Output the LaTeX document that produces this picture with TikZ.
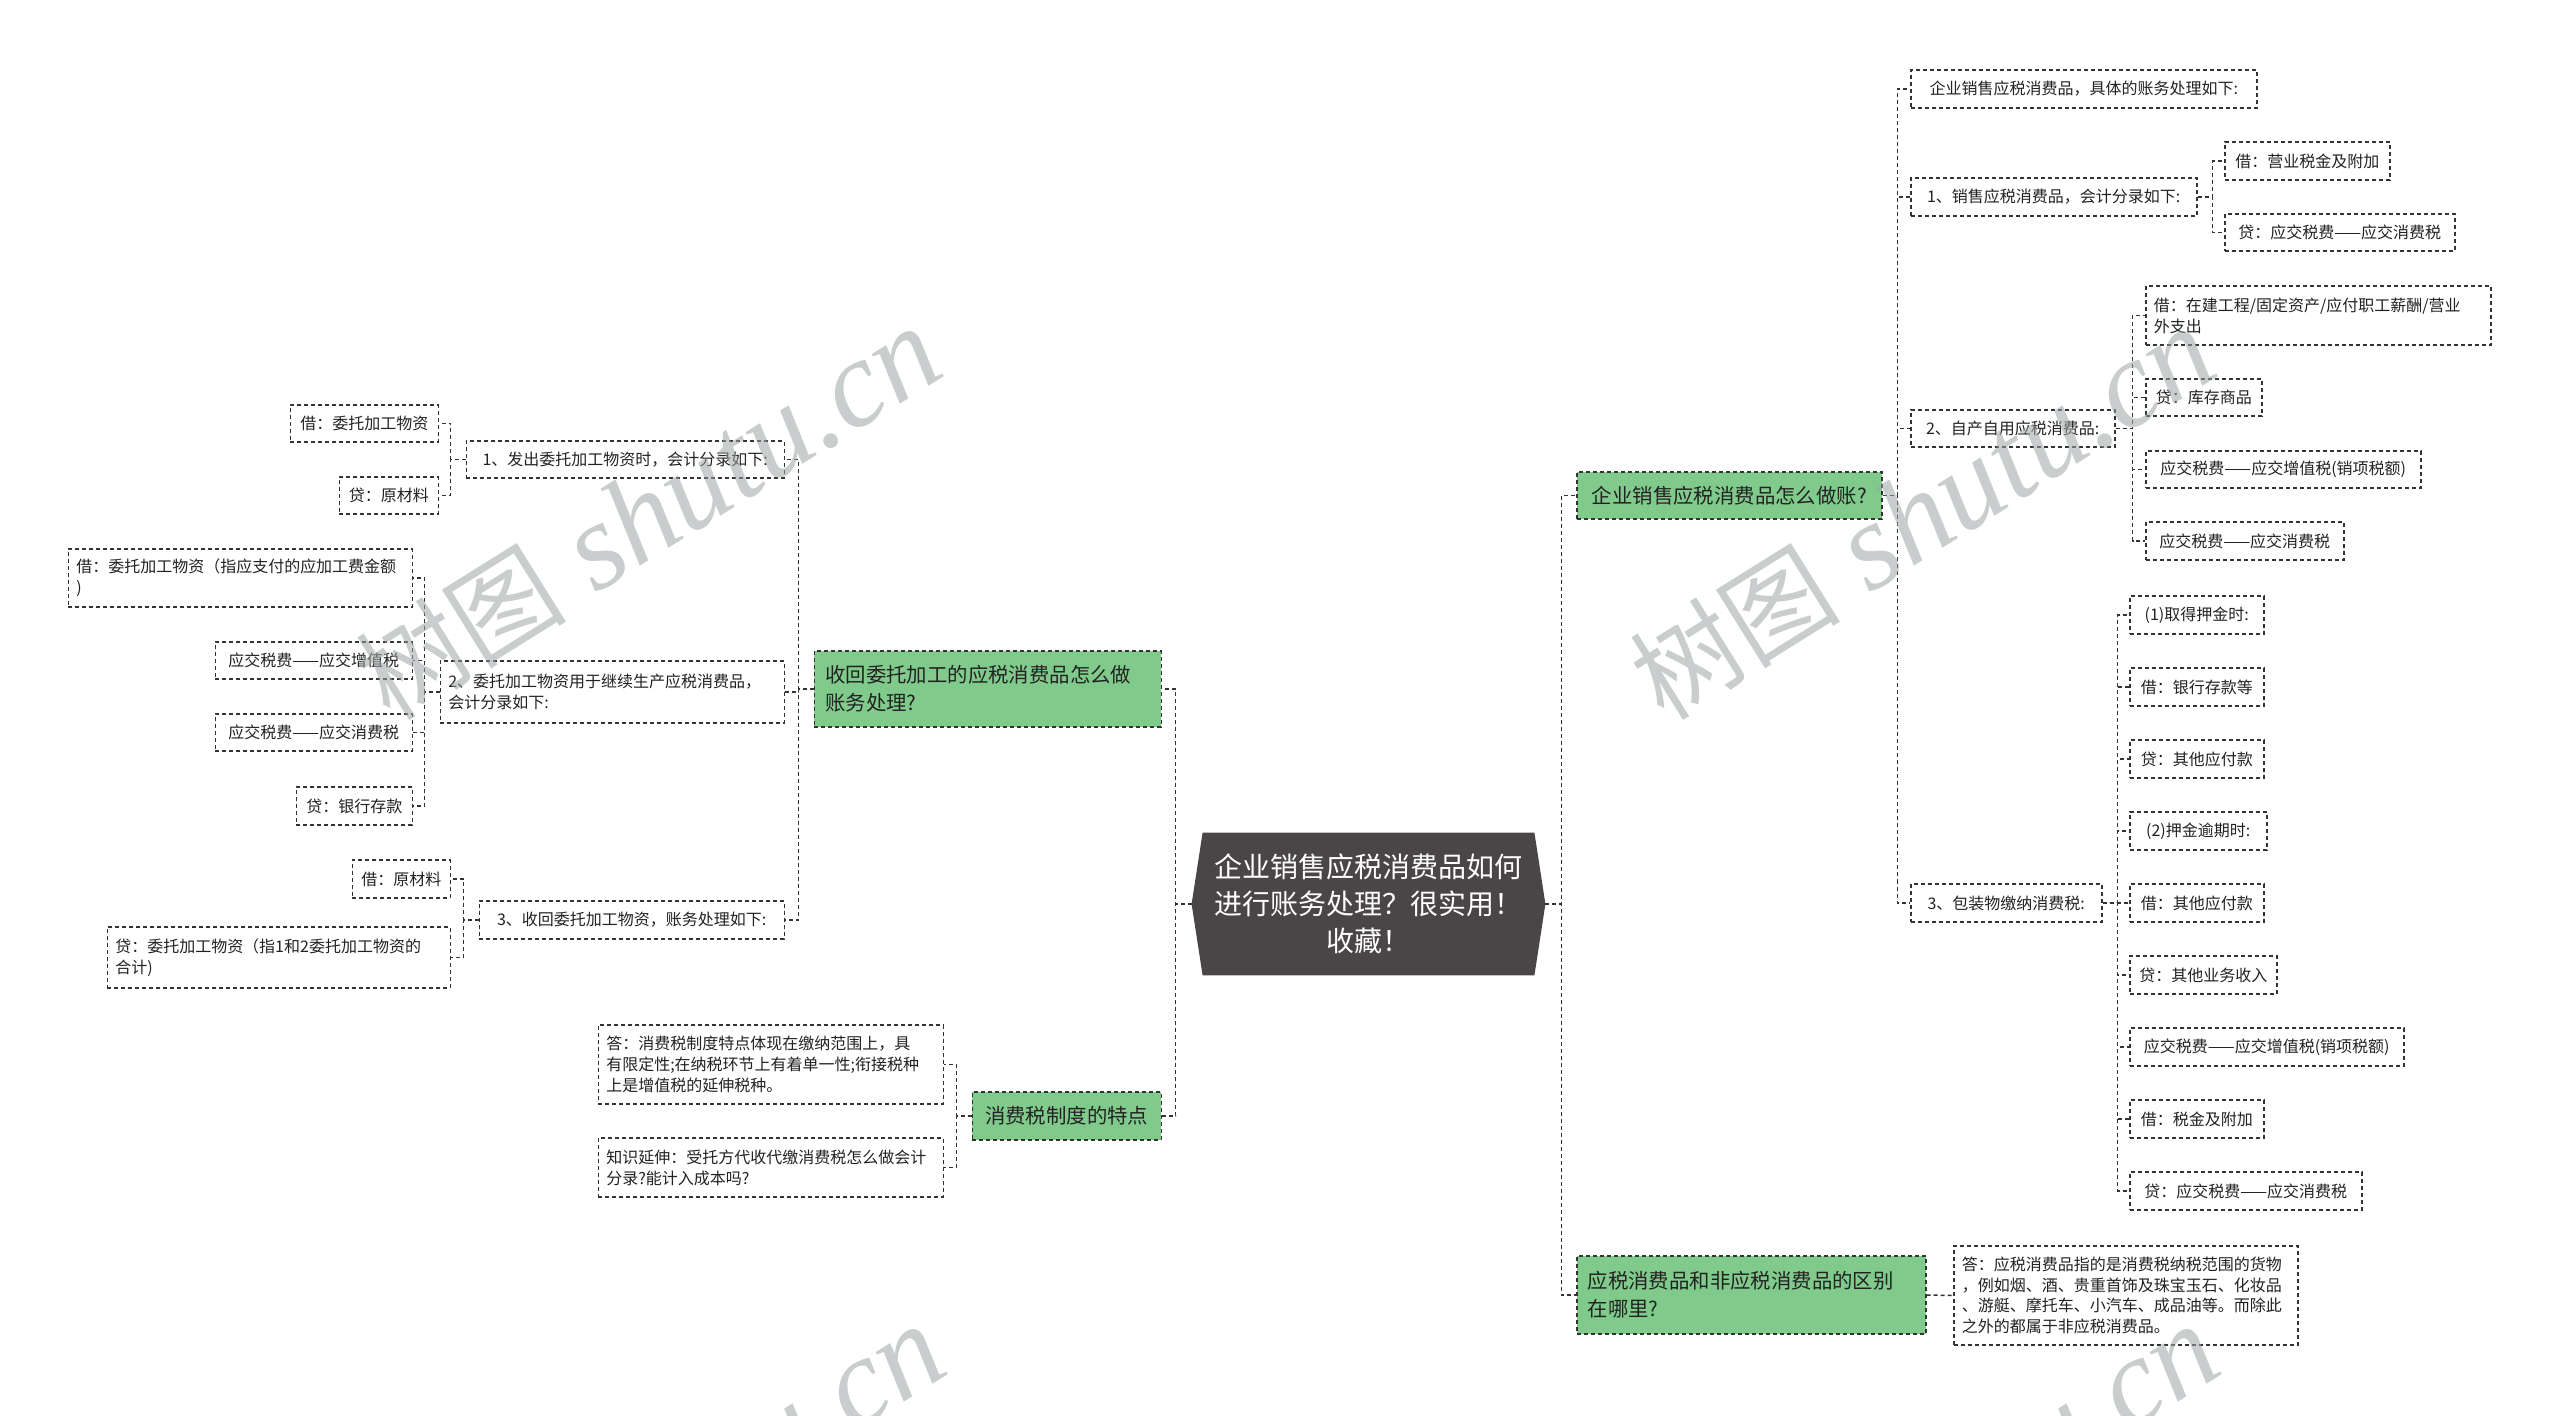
\documentclass[tikz,border=0pt]{standalone}
\usepackage{fontspec}
\setmainfont{Noto Sans CJK SC}
\newfontfamily\wmlat{Liberation Serif}
\usetikzlibrary{backgrounds}
\definecolor{lc}{RGB}{51,51,51}
\definecolor{tc}{RGB}{34,34,34}
\definecolor{gfill}{RGB}{128,203,139}
\definecolor{cfill}{RGB}{74,69,70}
\definecolor{wmc}{RGB}{160,165,165}
\newcommand{\wmtext}{{\fontsize{53}{53}\selectfont 树图}\hspace{15pt}{\wmlat\itshape\fontsize{62}{62}\selectfont shutu.cn}}
\begin{document}
\begin{tikzpicture}[x=0.5pt,y=-0.5pt,
  conn/.style={draw=lc,line width=0.75pt,dash pattern=on 2pt off 1.5pt},
  box/.style={draw=lc,line width=0.75pt,dash pattern=on 2pt off 1.5pt,text=tc,align=left,inner ysep=0pt},
  leaf/.style={box,font=\fontsize{8}{10.5}\selectfont,inner xsep=4pt,minimum height=18.5pt},
  topic/.style={box,fill=gfill,font=\fontsize{10.2}{14}\selectfont,inner xsep=5.5pt},
  wm/.style={text=wmc,text opacity=0.55,rotate=32,inner sep=0pt}
]
\useasboundingbox (0,0) rectangle (2560,1416);

% central topic
\node[font=\fontsize{14}{18.5}\selectfont,text=white,align=center,minimum width=176.5pt,minimum height=71pt,inner sep=0pt] (c) at (1368.5,904) {企业销售应税消费品如何\\进行账务处理？很实用！\\收藏！};
\begin{scope}[on background layer]
\fill[white] (0,0) rectangle (2560,1416);
\fill[cfill] ([xshift=5.5pt]c.north west) -- ([xshift=-5.5pt]c.north east) -- (c.east) -- ([xshift=-5.5pt]c.south east) -- ([xshift=5.5pt]c.south west) -- (c.west) -- cycle;
\end{scope}

% ---------- right side ----------
\node[topic,anchor=west,minimum width=152.5pt,minimum height=23.5pt] (g1) at (1576,495.5) {企业销售应税消费品怎么做账?};
\node[topic,anchor=west,text width=163.5pt,minimum height=39pt] (g2) at (1576,1295) {应税消费品和非应税消费品的区别\\在哪里?};

\node[leaf,anchor=west,minimum width=173pt,minimum height=19pt] (r1) at (1910,89) {企业销售应税消费品，具体的账务处理如下:};
\node[leaf,anchor=west,minimum width=143pt,minimum height=19pt] (r2) at (1910,197) {1、销售应税消费品，会计分录如下:};
\node[leaf,anchor=west,minimum width=102pt] (r3) at (1910,428.5) {2、自产自用应税消费品:};
\node[leaf,anchor=west,minimum width=95.5pt,minimum height=19pt] (r4) at (1910,903) {3、包装物缴纳消费税:};

\node[leaf,anchor=west,minimum width=82.5pt,minimum height=19pt] (r2a) at (2224,161) {借：营业税金及附加};
\node[leaf,anchor=west,minimum width=115pt] (r2b) at (2224,232.5) {贷：应交税费——应交消费税};

\node[leaf,anchor=west,text width=164.5pt,minimum height=29.5pt] (r3a) at (2145,315.5) {借：在建工程/固定资产/应付职工薪酬/营业\\外支出};
\node[leaf,anchor=west,minimum width=58pt] (r3b) at (2145,397.5) {贷：库存商品};
\node[leaf,anchor=west,minimum width=137.5pt] (r3c) at (2145,469.5) {应交税费——应交增值税(销项税额)};
\node[leaf,anchor=west,minimum width=99pt,minimum height=19pt] (r3d) at (2145,541) {应交税费——应交消费税};

\node[leaf,anchor=west,minimum width=67pt,minimum height=19pt] (r4a) at (2129,615) {(1)取得押金时:};
\node[leaf,anchor=west,minimum width=67pt,minimum height=19pt] (r4b) at (2129,687) {借：银行存款等};
\node[leaf,anchor=west,minimum width=67pt,minimum height=19pt] (r4c) at (2129,759) {贷：其他应付款};
\node[leaf,anchor=west,minimum width=68.5pt,minimum height=19pt] (r4d) at (2129,831) {(2)押金逾期时:};
\node[leaf,anchor=west,minimum width=67pt,minimum height=19pt] (r4e) at (2129,903) {借：其他应付款};
\node[leaf,anchor=west,minimum width=73.5pt,minimum height=19pt] (r4f) at (2129,975) {贷：其他业务收入};
\node[leaf,anchor=west,minimum width=137pt,minimum height=19pt] (r4g) at (2129,1047) {应交税费——应交增值税(销项税额)};
\node[leaf,anchor=west,minimum width=67pt,minimum height=19pt] (r4h) at (2129,1119) {借：税金及附加};
\node[leaf,anchor=west,minimum width=116pt,minimum height=19pt] (r4i) at (2129,1191) {贷：应交税费——应交消费税};

\node[leaf,anchor=west,text width=164pt,minimum height=49.5pt,font=\fontsize{8}{10.4}\selectfont] (r5) at (1953,1295.5) {答：应税消费品指的是消费税纳税范围的货物\\，例如烟、酒、贵重首饰及珠宝玉石、化妆品\\、游艇、摩托车、小汽车、成品油等。而除此\\之外的都属于非应税消费品。};

% ---------- left side ----------
\node[topic,anchor=east,text width=162.5pt,minimum height=38pt] (l1) at (1162,689) {收回委托加工的应税消费品怎么做\\账务处理?};
\node[topic,anchor=east,minimum width=94.5pt,minimum height=24pt] (l2) at (1162,1116) {消费税制度的特点};

\node[leaf,anchor=east,minimum width=159pt] (la) at (785,459.5) {1、发出委托加工物资时，会计分录如下:};
\node[leaf,anchor=east,text width=164pt,minimum height=31pt] (lb) at (785,692) {2、委托加工物资用于继续生产应税消费品，\\会计分录如下:};
\node[leaf,anchor=east,minimum width=152.5pt,minimum height=19pt] (lc) at (785,920) {3、收回委托加工物资，账务处理如下:};

\node[leaf,anchor=east,minimum width=74pt] (la1) at (439,423.5) {借：委托加工物资};
\node[leaf,anchor=east,minimum width=49.5pt] (la2) at (439,495.5) {贷：原材料};

\node[leaf,anchor=east,text width=164pt,minimum height=29pt] (lb1) at (413,578) {借：委托加工物资（指应支付的应加工费金额\\)};
\node[leaf,anchor=east,minimum width=98.5pt] (lb2) at (413,660.5) {应交税费——应交增值税};
\node[leaf,anchor=east,minimum width=98.5pt] (lb3) at (413,732.5) {应交税费——应交消费税};
\node[leaf,anchor=east,minimum width=58pt,minimum height=19pt] (lb4) at (413,806) {贷：银行存款};

\node[leaf,anchor=east,minimum width=49pt,minimum height=19pt] (lc1) at (451,879) {借：原材料};
\node[leaf,anchor=east,text width=163.5pt,minimum height=30.5pt] (lc2) at (451,957.5) {贷：委托加工物资（指1和2委托加工物资的\\合计)};

\node[leaf,anchor=east,text width=164.5pt,minimum height=39.5pt] (ld1) at (944,1064.5) {答：消费税制度特点体现在缴纳范围上，具\\有限定性;在纳税环节上有着单一性;衔接税种\\上是增值税的延伸税种。};
\node[leaf,anchor=east,text width=164.5pt,minimum height=29.5pt] (ld2) at (944,1167.5) {知识延伸：受托方代收代缴消费税怎么做会计\\分录?能计入成本吗?};

% ---------- connectors ----------
\draw[conn] (c.east) -- ++(16,0) |- (g1.west);
\draw[conn] (c.east) -- ++(16,0) |- (g2.west);
\draw[conn] (c.west) -- ++(-16,0) |- (l1.east);
\draw[conn] (c.west) -- ++(-16,0) |- (l2.east);

\foreach \n in {r1,r2,r3,r4} \draw[conn] (g1.east) -- ++(15,0) |- (\n.west);
\foreach \n in {r2a,r2b} \draw[conn] (r2.east) -- ++(15,0) |- (\n.west);
\foreach \n in {r3a,r3b,r3c,r3d} \draw[conn] (r3.east) -- ++(17,0) |- (\n.west);
\foreach \n in {r4a,r4b,r4c,r4d,r4e,r4f,r4g,r4h,r4i} \draw[conn] (r4.east) -- ++(15,0) |- (\n.west);
\draw[conn] (g2.east) -- (r5.west);

\foreach \n in {la,lb,lc} \draw[conn] (l1.west) -- ++(-15,0) |- (\n.east);
\foreach \n in {la1,la2} \draw[conn] (la.west) -- ++(-15,0) |- (\n.east);
\foreach \n in {lb1,lb2,lb3,lb4} \draw[conn] (lb.west) -- ++(-15,0) |- (\n.east);
\foreach \n in {lc1,lc2} \draw[conn] (lc.west) -- ++(-15,0) |- (\n.east);
\foreach \n in {ld1,ld2} \draw[conn] (l2.west) -- ++(-15,0) |- (\n.east);

% ---------- watermarks ----------
\begin{scope}
\clip (0,0) rectangle (2560,1416);
\node[wm] (wm1) at (648,514) {\wmtext};
\node[wm] (wm2) at (1922,514) {\wmtext};
\node[wm] (wm3) at (652,1512) {\wmtext};
\node[wm] (wm4) at (1926,1512) {\wmtext};
\end{scope}
\end{tikzpicture}
\end{document}
